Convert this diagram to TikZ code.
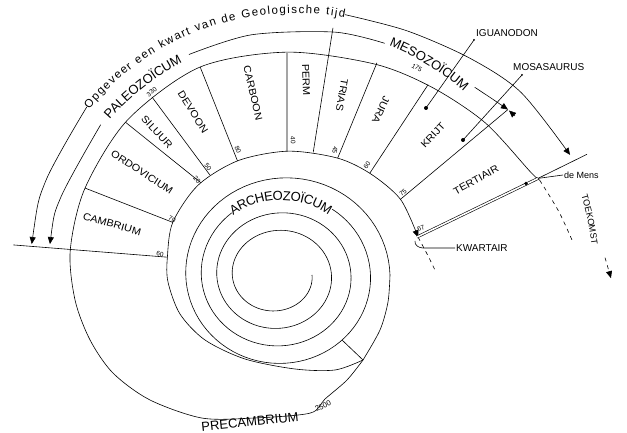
\documentclass[tikz,border=0pt]{standalone}
\usepackage{fontspec}
\setmainfont{Liberation Sans}
\usetikzlibrary{arrows.meta,decorations.text}

\begin{document}
\begin{tikzpicture}[x=1pt, y=1pt,
  line/.style={line width=0.6pt},
  period/.style={font=\fontsize{10}{10}\selectfont\addfontfeature{FakeStretch=1.1}, inner sep=0pt},
  num/.style={font=\fontsize{6.5}{7}\selectfont, inner sep=0pt},
  tag/.style={font=\fontsize{10}{11}\selectfont, inner sep=1pt},
  tip/.style={-{Triangle[length=7pt,width=6pt]}},
  pit/.style={{Triangle[length=7pt,width=6pt]}-},
  future/.style={line, dash pattern=on 4pt off 4pt}]
\useasboundingbox (-295,-151) rectangle (332,282);

% spiraal (archeozoicum), onderbroken door de tekst
\draw[line] plot[domain=0:953, samples=220, variable=\t]
  ({-19+\t/180+(36+\t*0.048611)*cos(\t)}, {7-(31.5+\t*0.048611)*sin(\t)});
\draw[line] plot[domain=1026:1440, samples=100, variable=\t]
  ({-19+\t/180+(36+\t*0.048611)*cos(\t)}, {7-(31.5+\t*0.048611)*sin(\t)})
  -- plot[smooth] coordinates {(95,7) (93,-20) (85,-48) (68,-78)};
\coordinate (branch) at (68,-78);

% binnenrand van de tijdband tot het kwartair
\draw[line, tip] plot[smooth] coordinates {(68,-78) (40,-88) (0,-87) (-50,-77)
  (-90,-58) (-115,-32) (-127,0) (-191:130) (-206:136) (-225:137) (-245:134)
  (-267:131) (-289:131) (-305:132) (-322:134) (-340:131)};
\draw[future] plot[smooth] coordinates {(20:131) (12:135) (4.9:140.5)};

% buitenrand
\draw[line] plot[smooth] coordinates {(68,-78) (52,-98) (30,-117) (-83.5:132)
  (-107.8:143) (-124.5:165) (-140.9:187) (-153.4:203.5) (-164.2:213)
  (-175.3:220.7) (-188.1:227) (-204:230) (-224:233) (-246:235) (-268:230)
  (-290:232) (-305:238) (-320:248) (-335:260) (-337.4:265)};
\draw[future] plot[smooth] coordinates {(22.6:265) (15:273) (8:281)};

% grenzen tussen de perioden
\draw[line] (47,-58) -- (branch);
\draw[line] (169:130) -- (172.5:284);
\draw[line] (154:136) -- (155.9:230);
\draw[line] (133.5:137) -- (136.7:233);
\draw[line] (128.5:136.5) -- (127.7:234);
\draw[line] (115.4:134) -- (113.8:235);
\draw[line] (93.5:131) -- (92:229);
\draw[line] (82:131) -- (81.5:257);
\draw[line] (71:131) -- (69.5:234);
\draw[line] (55.5:132) -- (56:238);
\draw[line] (38.1:134) -- (39:274);

% tijdperken
\draw[line, pit] plot[smooth] coordinates {(171.2:248) (160:249) (141:250)};
\path[decorate, decoration={text along path, text align=center, raise=-4.6pt,
  text={|\fontsize{13}{13}\selectfont|PALEOZOÏCUM}}]
  (141:251) arc[start angle=141, end angle=115, radius=251];
\draw[line] plot[smooth] coordinates {(115:251) (100:251) (81:253) (69.4:255)};
\path[decorate, decoration={text along path, text align=center, raise=-4.6pt,
  text={|\fontsize{13}{13}\selectfont|MESOZOÏCUM}}]
  (69.4:259) arc[start angle=69.4, end angle=47.3, radius=259];
\draw[line, tip] plot[smooth] coordinates {(47.3:265) (43:269) (39:274)};
\draw[tip] (220,166) -- (214,171.5);

\draw[line, pit] plot[smooth] coordinates {(171.8:266) (158:269) (140:272)};
\path[decorate, decoration={text along path, text align={fit to path}, raise=-3.2pt,
  text={|\fontsize{11.5}{12}\selectfont|Opgeveer een kwart van de Geologische tijd}}]
  (140:272) arc[start angle=140, end angle=79.4, radius=272];
\draw[line, tip] plot[smooth] coordinates {(79.4:272) (66:275) (52:284) (40:295) (24.8:303)};
\path[decorate, decoration={text along path, text align=center, raise=-3pt,
  text={|\fontsize{9}{9}\selectfont|TOEKOMST}}]
  (19:302) arc[start angle=19, end angle=5, radius=302];
\draw[future, tip] plot[smooth] coordinates {(4.5:311) (0.7:316)};

\path[decorate, decoration={text along path, text align=center, raise=-4.6pt,
  text={|\fontsize{13}{13}\selectfont|ARCHEOZOÏCUM}}]
  (-64.1,70.5) arc[start angle=127, end angle=54, x radius=84, y radius=79.5];
\node[rotate=6, font=\fontsize{13}{13}\selectfont, inner sep=0pt] (precam) at (-45,-140) {PRECAMBRIUM};

% namen van de perioden
\node[period, rotate=-16] (cambrium) at (-183,58) {CAMBRIUM};
\node[period, rotate=-33] (ordovicium) at (-153,110) {ORDOVICIUM};
\node[period, rotate=-47] (siluur) at (-138,150) {SILUUR};
\node[period, rotate=-58] (devoon) at (-102,170) {DEVOON};
\node[period, rotate=-77] (carboon) at (-42,189) {CARBOON};
\node[period, rotate=-88] (perm) at (11,202) {PERM};
\node[period, rotate=-100] (trias) at (47,187) {TRIAS};
\node[period, rotate=-115] (jura) at (86,172) {JURA};
\node[period, rotate=47] (krijt) at (138,147) {KRIJT};
\node[period, rotate=29] (tertiair) at (181,102) {TERTIAIR};

% duur in miljoenen jaren
\node[num, rotate=-10] (n60) at (-135,28) {60};
\node[num, rotate=-26] (n70) at (-123,63) {70};
\node[num, rotate=-47] (n20) at (-98,102) {20};
\node[num, rotate=-52] (n50) at (-87,115) {50};
\node[num, rotate=-65] (n80) at (-57,132) {80};
\node[num, rotate=-88] (n40) at (-2,142) {40};
\node[num, rotate=-100] (n45) at (40,132) {45};
\node[num, rotate=57] (n60b) at (72,117) {60};
\node[num, rotate=38] (n75) at (108,89) {75};
\node[num, rotate=22] (n67) at (126,54) {67};
\node[num, rotate=38] (n330) at (127:238) {330};
\node[num, rotate=-30] (n175) at (122,214) {175};
\node[num, rotate=25, font=\fontsize{7.5}{8}\selectfont] (n2500) at (28,-124) {2500};

% dieren en de mens
\coordinate (iguDot) at (131,174);
\coordinate (iguEnd) at (179,242);
\node[tag, anchor=south west] (igu) at (180,244) {IGUANODON};
\draw[line] (iguDot) -- (iguEnd);
\fill (iguDot) circle (2); \fill (iguEnd) circle (1);
\coordinate (mosDot) at (168,142);
\coordinate (mosEnd) at (227,207);
\node[tag, anchor=south west] (mos) at (217,210) {MOSASAURUS};
\draw[line] (mosDot) -- (mosEnd);
\fill (mosDot) circle (2); \fill (mosEnd) circle (1);

\coordinate (kwar) at (122,45);
\coordinate (mensX) at (243,103.6);
\coordinate (mensEnd) at (292,127.7);
\draw[line, double distance=1.6pt] (kwar) -- (mensX);
\draw[line] (mensX) -- (mensEnd);
\fill (231,98.5) circle (1.8);
\node[tag, anchor=west, font=\fontsize{9}{10}\selectfont] (mens) at (268,107) {de Mens};
\draw[line] (mens.west) -- (mensX);
\node[tag, anchor=west] (kwartair) at (160,34) {KWARTAIR};
\draw[line] (120,41) to[out=-100, in=180] (128,34) -- (kwartair.west);
\end{tikzpicture}
\end{document}
